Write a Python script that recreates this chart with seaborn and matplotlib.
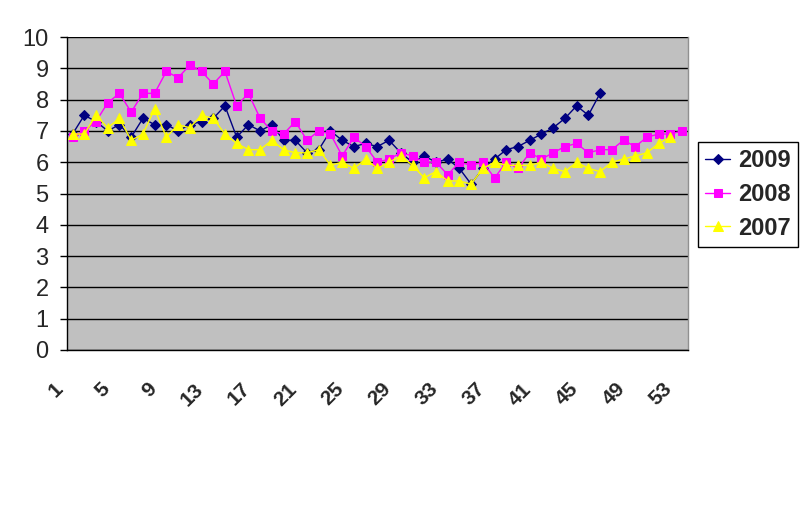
import numpy as np
import pandas as pd
import matplotlib
matplotlib.use("Agg")
import matplotlib.pyplot as plt
from matplotlib.transforms import ScaledTranslation
import seaborn as sns

weeks_all = list(range(1, 54))
tick_labels = [str(w) for w in range(1, 54, 4)]

v2009 = [6.9, 7.5, 7.3, 7.0, 7.2, 6.8, 7.4, 7.2, 7.2, 7.0, 7.2, 7.3, 7.4, 7.8, 6.8,
         7.2, 7.0, 7.2, 6.7, 6.7, 6.3, 6.4, 7.0, 6.7, 6.5, 6.6, 6.5, 6.7, 6.3, 6.0,
         6.2, 6.0, 6.1, 5.8, 5.3, 5.8, 6.1, 6.4, 6.5, 6.7, 6.9, 7.1, 7.4, 7.8, 7.5,
         8.2]
v2008 = [6.8, 7.0, 7.3, 7.9, 8.2, 7.6, 8.2, 8.2, 8.9, 8.7, 9.1, 8.9, 8.5, 8.9, 7.8,
         8.2, 7.4, 7.0, 6.9, 7.3, 6.7, 7.0, 6.9, 6.2, 6.8, 6.5, 6.0, 6.1, 6.3, 6.2,
         6.0, 6.0, 5.6, 6.0, 5.9, 6.0, 5.5, 6.0, 5.8, 6.3, 6.1, 6.3, 6.5, 6.6, 6.3,
         6.4, 6.4, 6.7, 6.5, 6.8, 6.9, 6.9, 7.0]
v2007 = [6.9, 6.9, 7.5, 7.1, 7.4, 6.7, 6.9, 7.7, 6.8, 7.2, 7.1, 7.5, 7.4, 6.9, 6.6,
         6.4, 6.4, 6.7, 6.4, 6.3, 6.3, 6.4, 5.9, 6.0, 5.8, 6.1, 5.8, 6.0, 6.2, 5.9,
         5.5, 5.7, 5.4, 5.4, 5.3, 5.8, 6.0, 5.9, 5.9, 5.9, 6.0, 5.8, 5.7, 6.0, 5.8,
         5.7, 6.0, 6.1, 6.2, 6.3, 6.6, 6.8]

series = [
    ("2009", v2009, "#000080", "D", 5),
    ("2008", v2008, "#FF00FF", "s", 6),
    ("2007", v2007, "#FFFF00", "^", 7),
]

sns.set_theme(style="white")
plt.rcParams["font.family"] = ["Liberation Sans", "DejaVu Sans"]

fig = plt.figure(figsize=(8.09, 5.25), dpi=100)
ax = fig.add_axes([66.7 / 809, 1 - 350 / 525, (688 - 66.7) / 809, (350 - 37) / 525])
ax.set_facecolor("#C0C0C0")

for name, vals, col, mk, ms in series:
    df = pd.DataFrame({"week": weeks_all[:len(vals)], "value": vals})
    sns.lineplot(data=df, x="week", y="value", ax=ax, color=col, marker=mk,
                 markersize=ms, markeredgecolor=col, linewidth=1.0, label=name,
                 zorder=3)

ax.set_xlim(0.5, 53.5)
ax.set_ylim(0, 10)
ax.set_yticks(range(0, 11))
ax.set_yticklabels([str(i) for i in range(0, 11)], fontsize=17)
ax.yaxis.grid(True, color="black", linewidth=1.0)
ax.set_axisbelow(True)

ax.set_xticks(list(range(1, 54, 4)))
ax.set_xticklabels(tick_labels, fontsize=15, fontweight="bold", rotation=45,
                   ha="right", va="center", rotation_mode="anchor")
ax.set_xticks(np.arange(0.5, 54, 1.0), minor=True)
ax.tick_params(axis="x", which="major", length=0, pad=26)
ax.tick_params(axis="x", which="minor", length=5, width=1, color="black", direction="out")
ax.tick_params(axis="y", which="major", length=5, width=1, color="black", direction="out", pad=8)
ax.tick_params(bottom=True, left=True)
ax.set_xlabel("")
ax.set_ylabel("")

for s in ["left", "bottom"]:
    ax.spines[s].set_color("black")
    ax.spines[s].set_linewidth(1.0)
ax.spines["top"].set_visible(False)
ax.spines["right"].set_color("#909090")
ax.spines["right"].set_linewidth(1.0)

leg = ax.legend(loc="center left", bbox_to_anchor=(698 / 809, 1 - 194.5 / 525),
                bbox_transform=fig.transFigure, frameon=True,
                prop={"size": 17, "weight": "bold"},
                fancybox=False, edgecolor="black", framealpha=1,
                handlelength=1.06, borderpad=0.3, labelspacing=0.45,
                handletextpad=0.34, borderaxespad=0)
leg.get_frame().set_linewidth(1.0)

# shift rotated x labels left (applied after all tick_params calls)
offset = ScaledTranslation(-13 / 100, 0, fig.dpi_scale_trans)
for tick in ax.xaxis.get_major_ticks():
    tick.label1.set_transform(tick.label1.get_transform() + offset)

fig.savefig("out.png", dpi=100)
